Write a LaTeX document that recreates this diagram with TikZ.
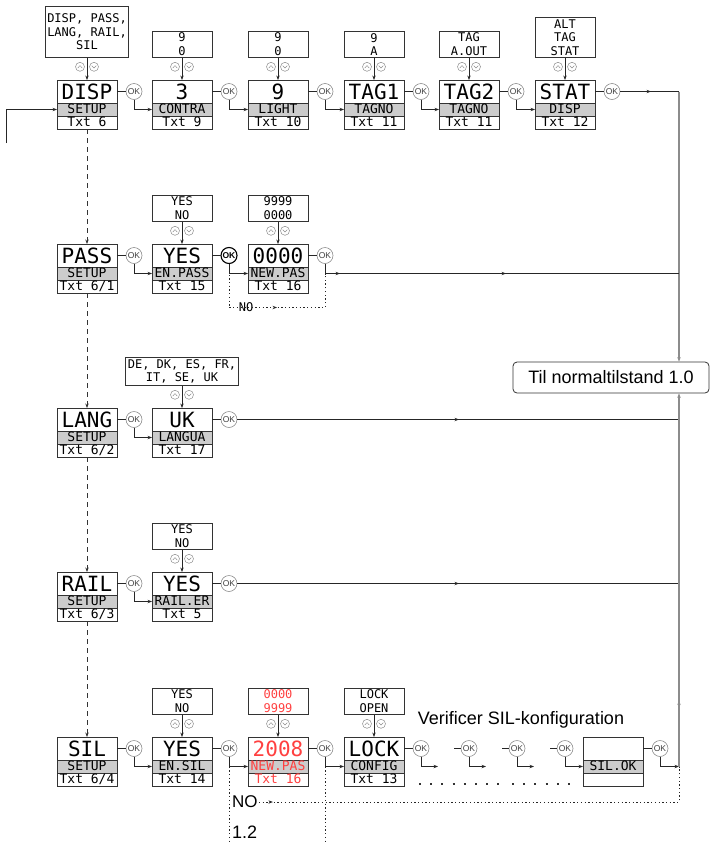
\documentclass[tikz,border=0pt]{standalone}
\usepackage{fontspec}
\setmainfont{Liberation Sans}
\newfontfamily\lcd{DejaVu Sans Mono}
\usetikzlibrary{positioning,arrows.meta,decorations.markings}
\newcommand\ecrangrand{\lcd\fontsize{21}{21}\selectfont}
\newcommand\ecranpetit{\lcd\fontsize{12}{13.5}\selectfont}
\newcommand\ecranbande{\lcd\fontsize{13}{13}\selectfont}
\newcommand\ecrantexte{\fontsize{18}{18}\selectfont}

\begin{document}
\begin{tikzpicture}[x=1pt,y=-1pt,>={Stealth[length=4.5pt,width=3.4pt]},
		haut/.style={draw=black!80,line width=0.8pt,minimum width=60pt,minimum height=23pt,inner sep=0pt,outer sep=0pt,text height=15pt,text depth=0pt,font=\ecrangrand},
		bande/.style={draw=black!80,line width=0.8pt,fill=black!20,minimum width=60pt,minimum height=13pt,inner sep=0pt,outer sep=0pt,text height=9.2pt,text depth=0.4pt,font=\ecranbande},
		bas/.style={bande,fill=none},
		rouge/.style={text=red!75},
		choix/.style={draw=black!80,line width=0.8pt,minimum width=60pt,inner sep=2pt,align=center,font=\ecranpetit},
		ok/.style={circle,draw=black!45,line width=0.6pt,minimum size=16pt,inner sep=0pt,outer sep=0pt,text=black!75,font=\fontsize{8.5}{8.5}\selectfont},
		trait/.style={draw=black!85,line width=0.7pt},
		tirets/.style={draw=black!80,line width=0.9pt,dash pattern=on 5pt off 4pt},
		pointille/.style={draw=black!85,line width=0.9pt,dash pattern=on 1.3pt off 2.4pt},
		retour/.style={draw=black!45,line width=1.6pt},
		fleche/.style={postaction={decorate},decoration={markings,mark=at position #1 with {\arrow{>}}}},
		fleches/.style 2 args={postaction={decorate},decoration={markings,mark=at position #1 with {\arrow{>}},mark=at position #2 with {\arrow{>}}}},
	]
		\useasboundingbox (0,0) rectangle (713,844);

		%ligne DISP
		\node (disp) at(87,91.5) [haut] {DISP};
		\node (disp-b) [bande,below=0pt of disp] {SETUP};
		\node (disp-t) [bas,below=0pt of disp-b] {Txt 6};
		\node (contra) at(182,91.5) [haut] {3};
		\node (contra-b) [bande,below=0pt of contra] {CONTRA};
		\node (contra-t) [bas,below=0pt of contra-b] {Txt 9};
		\node (light) at(278,91.5) [haut] {9};
		\node (light-b) [bande,below=0pt of light] {LIGHT};
		\node (light-t) [bas,below=0pt of light-b] {Txt 10};
		\node (tag1) at(374,91.5) [haut] {TAG1};
		\node (tag1-b) [bande,below=0pt of tag1] {TAGNO};
		\node (tag1-t) [bas,below=0pt of tag1-b] {Txt 11};
		\node (tag2) at(469,91.5) [haut] {TAG2};
		\node (tag2-b) [bande,below=0pt of tag2] {TAGNO};
		\node (tag2-t) [bas,below=0pt of tag2-b] {Txt 11};
		\node (stat) at(565,91.5) [haut] {STAT};
		\node (stat-b) [bande,below=0pt of stat] {DISP};
		\node (stat-t) [bas,below=0pt of stat-b] {Txt 12};

		%ligne PASS
		\node (pass) at(87,255.5) [haut] {PASS};
		\node (pass-b) [bande,below=0pt of pass] {SETUP};
		\node (pass-t) [bas,below=0pt of pass-b] {Txt 6/1};
		\node (enpass) at(182,255.5) [haut] {YES};
		\node (enpass-b) [bande,below=0pt of enpass] {EN.PASS};
		\node (enpass-t) [bas,below=0pt of enpass-b] {Txt 15};
		\node (newpas) at(278,255.5) [haut] {0000};
		\node (newpas-b) [bande,below=0pt of newpas] {NEW.PAS};
		\node (newpas-t) [bas,below=0pt of newpas-b] {Txt 16};

		%ligne LANG
		\node (lang) at(87,419.5) [haut] {LANG};
		\node (lang-b) [bande,below=0pt of lang] {SETUP};
		\node (lang-t) [bas,below=0pt of lang-b] {Txt 6/2};
		\node (langua) at(182,419.5) [haut] {UK};
		\node (langua-b) [bande,below=0pt of langua] {LANGUA};
		\node (langua-t) [bas,below=0pt of langua-b] {Txt 17};

		%ligne RAIL
		\node (rail) at(87,583.5) [haut] {RAIL};
		\node (rail-b) [bande,below=0pt of rail] {SETUP};
		\node (rail-t) [bas,below=0pt of rail-b] {Txt 6/3};
		\node (railer) at(182,583.5) [haut] {YES};
		\node (railer-b) [bande,below=0pt of railer] {RAIL.ER};
		\node (railer-t) [bas,below=0pt of railer-b] {Txt 5};

		%ligne SIL
		\node (sil) at(87,748.5) [haut] {SIL};
		\node (sil-b) [bande,below=0pt of sil] {SETUP};
		\node (sil-t) [bas,below=0pt of sil-b] {Txt 6/4};
		\node (ensil) at(182,748.5) [haut] {YES};
		\node (ensil-b) [bande,below=0pt of ensil] {EN.SIL};
		\node (ensil-t) [bas,below=0pt of ensil-b] {Txt 14};
		\node (silpas) at(278,748.5) [haut,rouge] {2008};
		\node (silpas-b) [bande,rouge,below=0pt of silpas] {NEW.PAS};
		\node (silpas-t) [bas,rouge,below=0pt of silpas-b] {Txt 16};
		\node (lock) at(374,748.5) [haut] {LOCK};
		\node (lock-b) [bande,below=0pt of lock] {CONFIG};
		\node (lock-t) [bas,below=0pt of lock-b] {Txt 13};
		\node (silok) at(613,748.5) [haut] {};
		\node (silok-b) [bande,below=0pt of silok] {SIL.OK};
		\node (silok-t) [bas,below=0pt of silok-b] {};

		%choix au-dessus des écrans
		\node (o-disp) [choix,above=22pt of disp,minimum height=51pt] {DISP, PASS,\\LANG, RAIL,\\SIL};
		\node (o-contra) [choix,above=22pt of contra] {9\\0};
		\node (o-light) [choix,above=22pt of light] {9\\0};
		\node (o-tag1) [choix,above=22pt of tag1] {9\\A};
		\node (o-tag2) [choix,above=22pt of tag2] {TAG\\A.OUT};
		\node (o-stat) [choix,above=22pt of stat] {ALT\\TAG\\STAT};
		\node (o-enpass) [choix,above=22pt of enpass] {YES\\NO};
		\node (o-newpas) [choix,above=22pt of newpas] {9999\\0000};
		\node (o-langua) [choix,above=22pt of langua] {DE, DK, ES, FR,\\IT, SE, UK};
		\node (o-railer) [choix,above=22pt of railer] {YES\\NO};
		\node (o-ensil) [choix,above=22pt of ensil] {YES\\NO};
		\node (o-silpas) [choix,rouge,above=22pt of silpas] {0000\\9999};
		\node (o-lock) [choix,above=22pt of lock] {LOCK\\OPEN};

		%boutons OK
		\foreach \e in {disp,contra,light,tag1,tag2,stat,pass,newpas,lang,langua,rail,railer,sil,ensil,silpas,lock,silok}
			\node (ok-\e) [ok,right=9pt of \e] {OK};
		\node (ok-enpass) [ok,right=9pt of enpass,draw=black,line width=1.1pt,text=black,font=\bfseries\fontsize{8.5}{8.5}\selectfont] {OK};
		\node (ok-v1) at(469,748.5) [ok] {OK};
		\node (ok-v2) at(517,748.5) [ok] {OK};
		\node (ok-v3) at(565,748.5) [ok] {OK};

		\node (til) at(611,377.5) [draw=black!80,line width=0.8pt,rounded corners=4pt,minimum width=196pt,minimum height=31pt,font=\ecrantexte] {Til normaltilstand 1.0};
		\node (verif) at(521,720) [font=\ecrantexte] {Verificer SIL-konfiguration};
		\node (no-sil) at(231,802) [anchor=west,inner sep=1pt,font=\fontsize{17}{17}\selectfont] {NO};
		\node (sec-12) at(231,832) [anchor=west,inner sep=1pt,font=\ecrantexte] {1.2};
		\node (no-pass) at(246,307.5) [inner sep=0pt,font=\ecranpetit] {NO};

		\coordinate (entree) at(6,143);
		\coordinate (coin-haut) at(679,91.5);
		\coordinate (coin-bas) at(679,766.5);
		\coordinate (coin-no) at(679,802);
		\coordinate (v1) at(438,766.5);
		\coordinate (v2) at(486,766.5);
		\coordinate (v3) at(534,766.5);
		\coordinate (sortie-1) at(229,844);
		\coordinate (sortie-2) at(325,844);

		%flèches haut/bas des choix
		\foreach \e in {disp,contra,light,tag1,tag2,stat,enpass,newpas,langua,railer,ensil,silpas,lock} {
			\draw[trait,->] (o-\e) -- (\e);
			\path (o-\e.south) -- (\e.north) coordinate[pos=0.4] (m);
			\draw[black!45,line width=0.5pt] (m) ++(-7,0) circle[radius=4.5] (m) ++(7,0) circle[radius=4.5];
			\draw[black!45,line width=0.5pt] (m) ++(-9.3,1.2) -- ++(2.3,-2.4) -- ++(2.3,2.4) (m) ++(4.7,-1.2) -- ++(2.3,2.4) -- ++(2.3,-2.4);
		}

		%liaisons écran -- OK -- écran suivant
		\foreach \e in {disp,contra,light,tag1,tag2,stat,pass,enpass,newpas,lang,langua,rail,railer,sil,ensil,silpas,lock,silok}
			\draw[trait] (\e) -- (ok-\e);
		\foreach \a/\b in {disp/contra,contra/light,light/tag1,tag1/tag2,tag2/stat,pass/enpass,enpass/newpas,lang/langua,rail/railer,sil/ensil,ensil/silpas,silpas/lock}
			\draw[trait,->] (ok-\a) |- (\b-b);
		\foreach \a/\b in {disp-t/pass,pass-t/lang,lang-t/rail,rail-t/sil}
			\draw[tirets,->] (\a) -- (\b);
		\draw[trait,->] (entree) |- (disp-b);

		%vers l'état normal
		\draw[trait,fleche=31pt] (ok-stat) -- (coin-haut);
		\draw[retour,->] (coin-haut) -- (coin-haut |- til.north);
		\draw[trait,fleches={25pt}{191pt}] (ok-newpas) |- (coin-haut |- newpas-b);
		\draw[pointille,fleche=92pt] (ok-enpass.south) -- ++(0,44) -| (ok-newpas |- newpas-b);
		\draw[trait,fleche=222pt] (ok-langua) -- (ok-langua -| coin-haut);
		\draw[trait,fleche=222pt] (ok-railer) -- (ok-railer -| coin-haut);

		%vérification SIL
		\draw[trait,->] (ok-lock) |- (v1);
		\draw[trait,->] (ok-v1) |- (v2);
		\draw[trait,->] (ok-v2) |- (v3);
		\draw[trait,->] (ok-v3) |- (silok-b);
		\foreach \v in {v1,v2,v3}
			\draw[trait] (ok-\v.west) -- ++(-7,0);
		\draw[black!80,line width=2pt,dash pattern=on 2pt off 9.2pt] (419,784) -- (500,784) (512,784) -- (571,784);
		\draw[trait,->] (ok-silok) |- (coin-bas);
		\draw[retour,->,fleche=66pt] (coin-bas) -- (coin-bas |- til.south);
		\draw[pointille] (ok-ensil |- ensil-b) -- (sortie-1);
		\draw[pointille] (ok-silpas |- silpas-b) -- (sortie-2);
		\draw[pointille,fleche=14pt] (no-sil) -- (coin-no) -- (coin-bas);
	\end{tikzpicture}
\end{document}
